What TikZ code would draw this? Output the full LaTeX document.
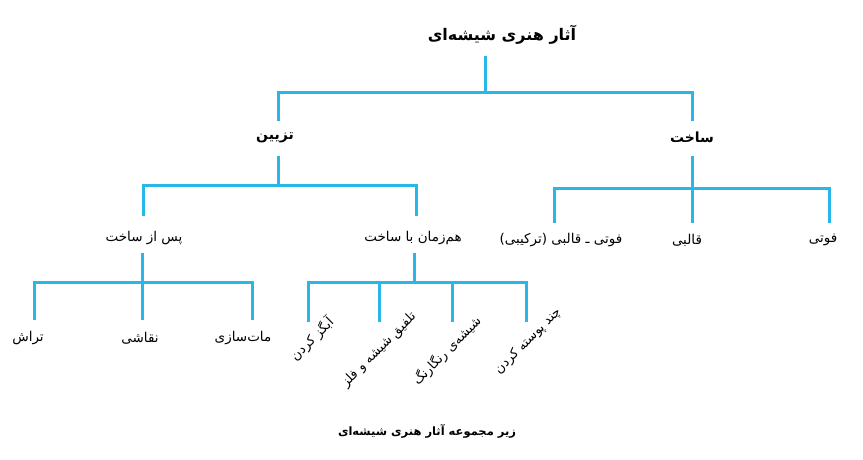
\documentclass[tikz,border=0pt]{standalone}
\usepackage{fontspec}
\newfontfamily\fa[Script=Arabic]{DejaVu Sans}
\TeXXeTstate=1
\definecolor{cyanline}{RGB}{41,182,232}
\tikzset{
  link/.style={draw=cyanline, line width=3pt},
  t1/.style={font=\fa\bfseries\fontsize{16}{19}\selectfont, inner sep=1pt},
  t2/.style={font=\fa\bfseries\fontsize{14}{17}\selectfont, inner sep=1pt},
  t3/.style={font=\fa\fontsize{13.5}{16}\selectfont, inner sep=1pt},
  capt/.style={font=\fa\bfseries\fontsize{11.5}{14}\selectfont, inner sep=1pt},
  tilt/.style={font=\fa\fontsize{13}{15}\selectfont, inner sep=1pt, rotate=45}
}
\begin{document}
\begin{tikzpicture}[x=1pt,y=-1pt]
\useasboundingbox[fill=white] (0,0) rectangle (863,459);
% texts
\node[t1] (root) at (502,35) {\beginR آثار هنری شیشه‌ای\endR};
\node[t2] (taz) at (275,138) {\beginR تزیین\endR};
\node[t2] (sak) at (692,137) {\beginR ساخت\endR};
\node[t3] (pas) at (144,238) {\beginR پس از ساخت\endR};
\node[t3] (ham) at (413,238) {\beginR هم‌زمان با ساخت\endR};
\node[t3] (fq) at (561,240) {\beginR فوتی ـ قالبی (ترکیبی)\endR};
\node[t3] (qal) at (687,240) {\beginR قالبی\endR};
\node[t3] (fut) at (823,240) {\beginR فوتی\endR};
\node[t3] (tar) at (28,338) {\beginR تراش\endR};
\node[t3] (naq) at (140,338) {\beginR نقاشی\endR};
\node[t3] (mat) at (243,338) {\beginR مات‌سازی\endR};
\node[tilt] (abg) at (312,339) {\beginR آبگز کردن\endR};
\node[tilt] (tal) at (379,350) {\beginR تلفیق شیشه و فلز\endR};
\node[tilt] (shi) at (447,351) {\beginR شیشه‌ی رنگارنگ\endR};
\node[tilt] (cha) at (528,341) {\beginR چند پوسته کردن\endR};
\node[capt] (cap) at (427,431) {\beginR زیر مجموعه آثار هنری شیشه‌ای\endR};
% junction points
\coordinate (r0) at (485,56);
\coordinate (r1) at (485,92);
\coordinate (tz0) at (278,121);
\coordinate (tz1) at (278,92);
\coordinate (sk0) at (692,121);
\coordinate (sk1) at (692,92);
\coordinate (tzS) at (278,156);
\coordinate (tzB) at (278,185);
\coordinate (psT) at (143,216);
\coordinate (psB) at (143,185);
\coordinate (hmT) at (416,216);
\coordinate (hmB) at (416,185);
\coordinate (skS) at (692,156);
\coordinate (skE) at (692,223);
\coordinate (fqT) at (554,223);
\coordinate (fqB) at (554,188);
\coordinate (ftT) at (829,223);
\coordinate (ftB) at (829,188);
\coordinate (psS) at (142,253);
\coordinate (psE) at (142,320);
\coordinate (trT) at (34,320);
\coordinate (trB) at (34,282);
\coordinate (mtT) at (252,320);
\coordinate (mtB) at (252,282);
\coordinate (hmS) at (414,253);
\coordinate (hmE) at (414,282);
\coordinate (abT) at (308,322);
\coordinate (abB) at (308,282);
\coordinate (tlT) at (379,322);
\coordinate (tlB) at (379,282);
\coordinate (shT) at (452,322);
\coordinate (shB) at (452,282);
\coordinate (chT) at (526,322);
\coordinate (chB) at (526,282);
% connectors
\draw[link] (r0) -- (r1);
\draw[link] (tz0) -- (tz1) -- (sk1) -- (sk0);
\draw[link] (tzS) -- (tzB);
\draw[link] (psT) -- (psB) -- (hmB) -- (hmT);
\draw[link] (skS) -- (skE);
\draw[link] (fqT) -- (fqB) -- (ftB) -- (ftT);
\draw[link] (psS) -- (psE);
\draw[link] (trT) -- (trB) -- (mtB) -- (mtT);
\draw[link] (hmS) -- (hmE);
\draw[link] (abT) -- (abB) -- (chB) -- (chT);
\draw[link] (tlB) -- (tlT);
\draw[link] (shB) -- (shT);
\end{tikzpicture}
\end{document}
